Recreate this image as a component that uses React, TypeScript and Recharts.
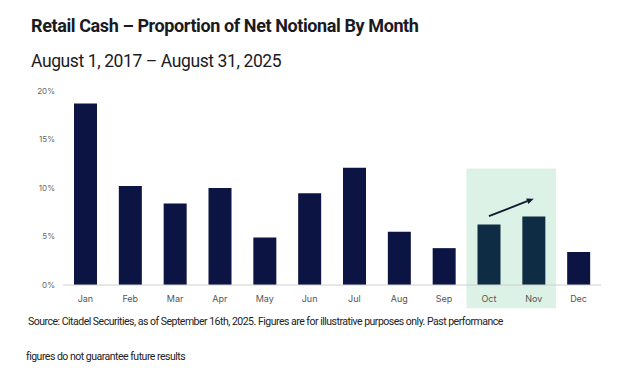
import React from 'react';
import { BarChart, Bar, XAxis, YAxis, Cell, ReferenceArea, ReferenceLine } from 'recharts';

// Share of net notional (%) per calendar month, Aug 2017 – Aug 2025
const months = ['Jan', 'Feb', 'Mar', 'Apr', 'May', 'Jun', 'Jul', 'Aug', 'Sep', 'Oct', 'Nov', 'Dec'];
const shares = [18.7, 10.2, 8.4, 10.0, 4.9, 9.45, 12.1, 5.5, 3.8, 6.25, 7.05, 3.4];
const highlighted = ['Oct', 'Nov'];
const yTicks = [0, 5, 10, 15, 20];

const data = months.map((m, i) => ({ month: m, share: shares[i] }));

const NAVY = '#0b1442';
const TEAL_NAVY = '#0f2c45';

const Arrow = (props: any) => {
  const { x1, y1, x2, y2 } = props;
  const ang = Math.atan2(y2 - y1, x2 - x1);
  const len = 7;
  const w = 3;
  const bx = x2 - len * Math.cos(ang);
  const by = y2 - len * Math.sin(ang);
  const px = -Math.sin(ang) * w;
  const py = Math.cos(ang) * w;
  return (
    <g>
      <line x1={x1} y1={y1} x2={bx} y2={by} stroke="#111a2e" strokeWidth={1.8} />
      <polygon points={`${x2},${y2} ${bx + px},${by + py} ${bx - px},${by - py}`} fill="#111a2e" />
    </g>
  );
};

export default function App() {
  return (
    <div style={{ position: 'absolute', left: 0, top: 0, width: 627, height: 378, background: '#fff', fontFamily: 'Roboto, sans-serif' }}>
      <div style={{ position: 'absolute', left: 31, top: 15, fontSize: 18, fontWeight: 700, color: '#1a1a1f', letterSpacing: -0.4, whiteSpace: 'nowrap' }}>
        Retail Cash – Proportion of Net Notional By Month
      </div>
      <div style={{ position: 'absolute', left: 31, top: 51, fontSize: 17.5, fontWeight: 400, color: '#1a1a1f', letterSpacing: -0.4, whiteSpace: 'nowrap' }}>
        August 1, 2017 – August 31, 2025
      </div>
      <div style={{ position: 'absolute', left: 0, top: 80 }}>
        <BarChart width={627} height={240} data={data} margin={{ top: 11, right: 26, left: 23, bottom: 5 }} barCategoryGap={11}>
          <ReferenceArea x1="Oct" x2="Nov" y1={-2.4} y2={12} fill="#ddf2e6" fillOpacity={1} stroke="none" ifOverflow="visible" />
          <XAxis
            dataKey="month"
            axisLine={{ stroke: '#cfcfcf' }}
            tickLine={false}
            tick={{ fontSize: 9, fill: '#555', fontFamily: 'Inter, sans-serif' }}
            tickMargin={5}
            height={30}
          />
          <YAxis
            domain={[0, 20]}
            ticks={yTicks}
            tickFormatter={(v: number) => `${v}%`}
            axisLine={false}
            tickLine={false}
            tick={{ fontSize: 8, fill: '#666', fontFamily: 'Inter, sans-serif' }}
            width={40}
          />
          <Bar dataKey="share" isAnimationActive={false}>
            {data.map((d) => (
              <Cell key={d.month} fill={highlighted.includes(d.month) ? TEAL_NAVY : NAVY} />
            ))}
          </Bar>
          <ReferenceLine
            segment={[{ x: 'Oct', y: 7.1 }, { x: 'Nov', y: 8.9 }]}
            ifOverflow="visible"
            shape={Arrow}
          />
        </BarChart>
      </div>
      <div style={{ position: 'absolute', left: 28, top: 315, fontSize: 10.5, color: '#222', letterSpacing: -0.5, whiteSpace: 'nowrap' }}>
        Source: Citadel Securities, as of September 16th, 2025. Figures are for illustrative purposes only. Past performance
      </div>
      <div style={{ position: 'absolute', left: 26, top: 350, fontSize: 10.5, color: '#222', letterSpacing: -0.5, whiteSpace: 'nowrap' }}>
        figures do not guarantee future results
      </div>
    </div>
  );
}
